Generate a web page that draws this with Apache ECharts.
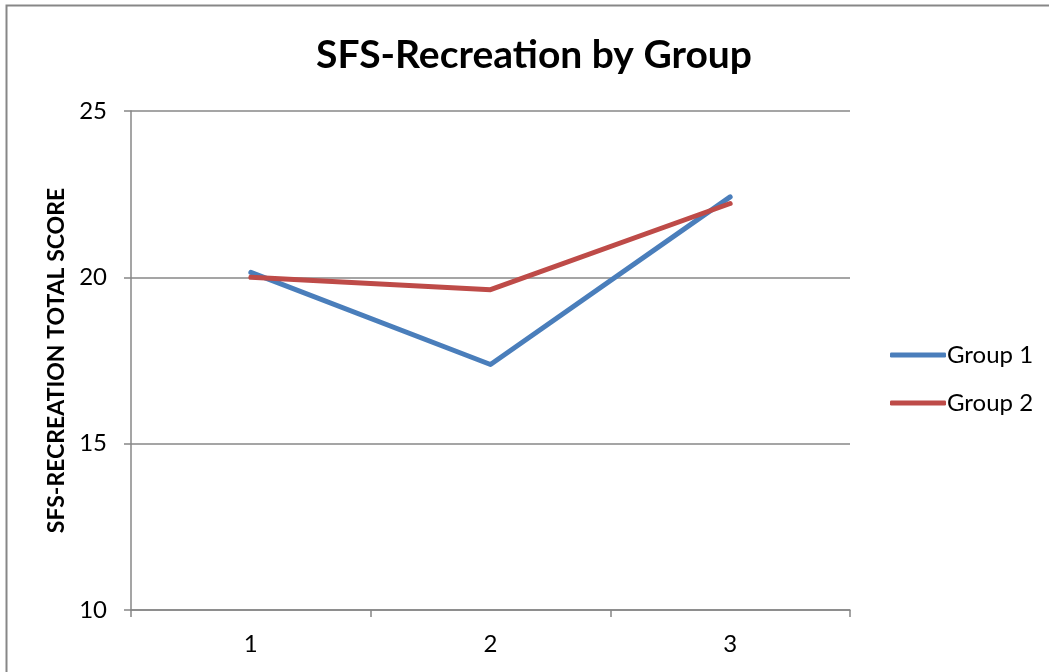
<!DOCTYPE html>
<html>
<head>
<meta charset="utf-8">
<script src="https://cdn.jsdelivr.net/npm/echarts@6/dist/echarts.min.js"></script>
<style>
  html, body { margin: 0; padding: 0; background: #fff; }
  #chart { width: 1049px; height: 672px; }
</style>
</head>
<body>
<div id="chart"></div>
<script>
// 数据
var categories = ['1', '2', '3'];
var group1 = [20.15, 17.38, 22.42];
var group2 = [20.0, 19.63, 22.22];
var seriesNames = ['Group 1', 'Group 2'];
var seriesColors = ['#4a7ebb', '#be4b48'];

var font = 'Lato, "Open Sans", sans-serif';
var chart = echarts.init(document.getElementById('chart'));

var option = {
    animation: false,
    textStyle: { fontFamily: font },
    title: {
        text: 'SFS-Recreation by Group',
        left: 311,
        top: 31,
        textStyle: { fontSize: 39, fontWeight: 'bold', color: '#000', fontFamily: font }
    },
    // 外框
    graphic: [{
        type: 'rect',
        shape: { x: 6.5, y: 5.5, width: 1050, height: 700 },
        style: { fill: 'none', stroke: '#878787', lineWidth: 2 },
        silent: true
    }],
    legend: {
        orient: 'vertical',
        left: 885,
        top: 338,
        itemWidth: 56,
        itemHeight: 5,
        itemGap: 24,
        icon: 'roundRect',
        data: seriesNames,
        textStyle: { fontSize: 24, color: '#000', fontFamily: font, padding: [0, 0, 0, -4] }
    },
    grid: { left: 131, right: 199, top: 111, bottom: 62 },
    xAxis: {
        type: 'category',
        data: categories,
        boundaryGap: true,
        axisLine: { lineStyle: { color: '#878787', width: 1.5 } },
        axisTick: { show: true, length: 7, interval: 0, lineStyle: { color: '#878787', width: 1.5 } },
        axisLabel: { fontSize: 24, color: '#000', margin: 22, fontFamily: font }
    },
    yAxis: {
        type: 'value',
        min: 10,
        max: 25,
        interval: 5,
        name: 'SFS-RECREATION TOTAL SCORE',
        nameLocation: 'middle',
        nameRotate: 90,
        nameGap: 61,
        nameTextStyle: { fontSize: 23, fontWeight: 'bold', color: '#000', fontFamily: font },
        axisLine: { show: true, lineStyle: { color: '#878787', width: 1.5 } },
        axisTick: { show: true, length: 7, lineStyle: { color: '#878787', width: 1.5 } },
        splitLine: { lineStyle: { color: '#878787', width: 1.5 } },
        axisLabel: { fontSize: 24, color: '#000', margin: 24, fontFamily: font }
    },
    series: [
        {
            name: seriesNames[0],
            type: 'line',
            data: group1,
            symbol: 'none',
            color: seriesColors[0],
            lineStyle: { width: 5, cap: 'round', join: 'round' }
        },
        {
            name: seriesNames[1],
            type: 'line',
            data: group2,
            symbol: 'none',
            color: seriesColors[1],
            lineStyle: { width: 5, cap: 'round', join: 'round' }
        }
    ]
};

chart.setOption(option);
</script>
</body>
</html>
